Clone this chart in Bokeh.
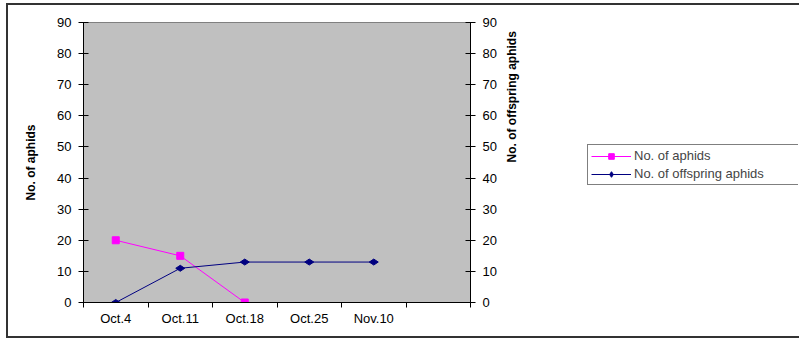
import numpy as np
from bokeh.plotting import figure
from bokeh.layouts import row
from bokeh.models import Range1d, LinearAxis, FixedTicker, Legend, LegendItem
from bokeh.embed import file_html
from bokeh.resources import INLINE

# sampling dates (last slot is an empty category on the axis)
categories = ["Oct.4", "Oct.11", "Oct.18", "Oct.25", "Nov.10", ""]
aphids = [20, 15, 0]
offspring = [0, 11, 13, 13, 13]
y_ticks = list(range(0, 100, 10))

FONT = "Liberation Sans"
H = 338
MAIN_W, KEY_W = 587, 212
BORDERS = dict(min_border_top=22, min_border_bottom=36)

n = len(categories)
centers = [i + 0.5 for i in range(n)]
bounds = list(range(n + 1))

# ---- main chart -------------------------------------------------------
p = figure(width=MAIN_W, height=H, output_backend="svg", toolbar_location=None,
           x_range=Range1d(0, n), y_range=Range1d(0, 90),
           min_border_left=83, min_border_right=117, **BORDERS)
p.background_fill_color = "#C0C0C0"
p.border_fill_alpha = 0
p.outline_line_color = "#808080"
p.grid.visible = False
p.extra_y_ranges = {"right": Range1d(0, 90)}


def style_axis(ax):
    ax.axis_line_color = "black"
    ax.major_tick_line_color = "black"
    ax.minor_tick_line_color = "black"
    ax.major_label_text_font = FONT
    ax.major_label_text_font_size = "13px"
    ax.major_label_text_color = "black"
    ax.axis_label_text_font = FONT
    ax.axis_label_text_font_style = "bold"
    ax.axis_label_text_font_size = "12px"
    ax.axis_label_text_color = "black"


# category axis: boundary ticks, labels centred in each slot
xa = p.xaxis[0]
xa.ticker = FixedTicker(ticks=centers, minor_ticks=bounds)
xa.major_label_overrides = dict(zip(centers, categories))
xa.major_tick_in = 0
xa.major_tick_out = 0
xa.minor_tick_in = 0
xa.minor_tick_out = 5
xa.major_label_standoff = 3
style_axis(xa)

ya = p.yaxis[0]
ya.ticker = FixedTicker(ticks=y_ticks)
ya.major_tick_in = 5
ya.major_tick_out = 5
ya.major_label_standoff = 7
ya.axis_label = "No. of aphids"
ya.axis_label_standoff = 16
style_axis(ya)

yr = LinearAxis(y_range_name="right", ticker=FixedTicker(ticks=y_ticks))
yr.major_tick_in = 5
yr.major_tick_out = 5
yr.major_label_standoff = 7
yr.axis_label = "No. of offspring aphids"
yr.axis_label_standoff = 12
if "axis_label_orientation" in yr.properties():
    yr.axis_label_orientation = np.pi / 2
style_axis(yr)
p.add_layout(yr, "right")

xs_a = centers[:len(aphids)]
xs_o = centers[:len(offspring)]
A_STYLE = dict(color="#FF00FF")
O_STYLE = dict(color="#000080")


def draw_series(fig):
    a_line = fig.line(xs_a, aphids, line_width=1, **A_STYLE)
    a_mark = fig.scatter(xs_a, aphids, marker="square", size=7, **A_STYLE)
    o_line = fig.line(xs_o, offspring, line_width=1, **O_STYLE)
    o_mark = fig.scatter(xs_o, offspring, marker="diamond", size=9,
                         angle=np.pi / 2, **O_STYLE)
    return (a_line, a_mark), (o_line, o_mark)


draw_series(p)

# ---- key panel (same series, ranges kept off the data) ---------------
k = figure(width=KEY_W, height=H, output_backend="svg", toolbar_location=None,
           x_axis_type=None, y_axis_type=None,
           x_range=Range1d(-2, -1), y_range=Range1d(-2, -1),
           min_border_left=0, min_border_right=1, **BORDERS)
k.border_fill_alpha = 0
k.background_fill_alpha = 0
k.outline_line_alpha = 0
k.grid.visible = False

a_r, o_r = draw_series(k)

legend = Legend(
    items=[LegendItem(label="No. of aphids", renderers=list(a_r)),
           LegendItem(label="No. of offspring aphids", renderers=list(o_r))],
    location=(0, 117), orientation="vertical",
    border_line_color="black", border_line_width=1,
    background_fill_color="white", background_fill_alpha=1.0,
    padding=3, spacing=3, margin=0,
    glyph_width=40, glyph_height=14, label_height=14,
    label_standoff=3, label_width=161,
    label_text_font=FONT, label_text_font_size="13px",
)
k.add_layout(legend)

layout = row(p, k, spacing=0)

# chart border painted behind the transparent canvas margins
line = "linear-gradient(#333333, #333333)"
layout.styles = {
    "background": (f"{line} 6px 3px / 2px 335px no-repeat, "
                   f"{line} 6px 3px / 800px 2px no-repeat, "
                   f"{line} 6px 336px / 800px 2px no-repeat, white"),
}

open("out.html", "w").write(file_html(layout, INLINE))
